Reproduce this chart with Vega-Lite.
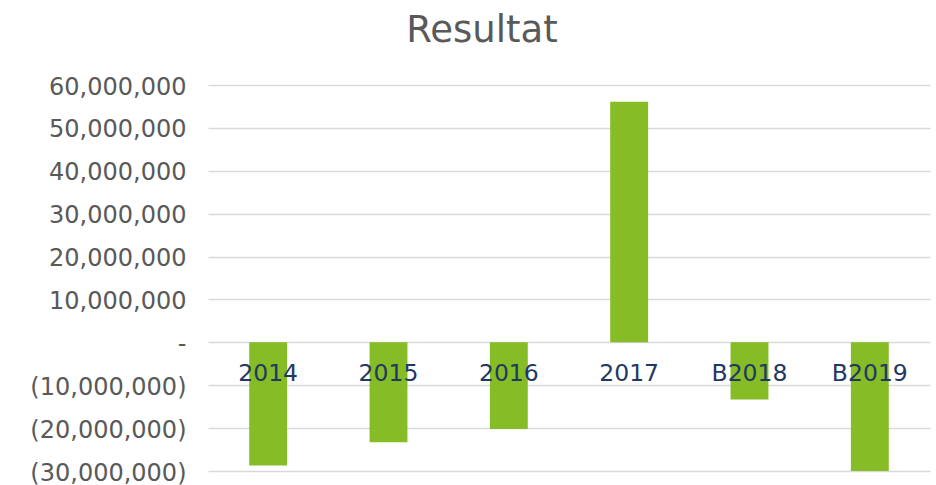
{
  "$schema": "https://vega.github.io/schema/vega-lite/v6.json",
  "autosize": "none",
  "width": 722,
  "height": 386,
  "padding": {"left": 208, "top": 85, "right": 6, "bottom": 14},
  "background": "white",
  "title": {
    "text": "Resultat",
    "font": "DejaVu Sans",
    "fontSize": 37,
    "fontWeight": "normal",
    "color": "#595959",
    "anchor": "middle",
    "dx": -87,
    "baseline": "alphabetic",
    "offset": -4
  },
  "data": {
    "values": [
      {"year": "2014", "value": -28700000},
      {"year": "2015", "value": -23300000},
      {"year": "2016", "value": -20200000},
      {"year": "2017", "value": 56100000},
      {"year": "B2018", "value": -13300000},
      {"year": "B2019", "value": -30000000}
    ]
  },
  "encoding": {
    "x": {
      "field": "year",
      "type": "nominal",
      "sort": null,
      "scale": {"paddingInner": 0.685, "paddingOuter": 0.3425},
      "axis": null
    }
  },
  "layer": [
    {
      "mark": {"type": "bar", "color": "#86BC25", "clip": true},
      "encoding": {
        "y": {
          "field": "value",
          "type": "quantitative",
          "scale": {"domain": [-30000000, 60000000], "nice": false},
          "axis": {
            "title": null,
            "values": [-30000000, -20000000, -10000000, 0, 10000000, 20000000, 30000000, 40000000, 50000000, 60000000],
            "labelExpr": "datum.value == 0 ? '-' : (datum.value < 0 ? '(' + format(-datum.value, ',') + ')' : format(datum.value, ','))",
            "labelFont": "DejaVu Sans",
            "labelFontSize": 24,
            "labelColor": "#595959",
            "labelPadding": 22,
            "labelOffset": 2,
            "domain": false,
            "ticks": false,
            "grid": true,
            "gridColor": "#D9D9D9",
            "gridWidth": 1.5
          }
        }
      }
    },
    {
      "mark": {
        "type": "text",
        "font": "DejaVu Sans",
        "fontSize": 23.5,
        "color": "#1F3864",
        "baseline": "middle",
        "dy": 32
      },
      "encoding": {
        "y": {"datum": 0, "type": "quantitative"},
        "text": {"field": "year"}
      }
    }
  ],
  "config": {"view": {"stroke": null}}
}
